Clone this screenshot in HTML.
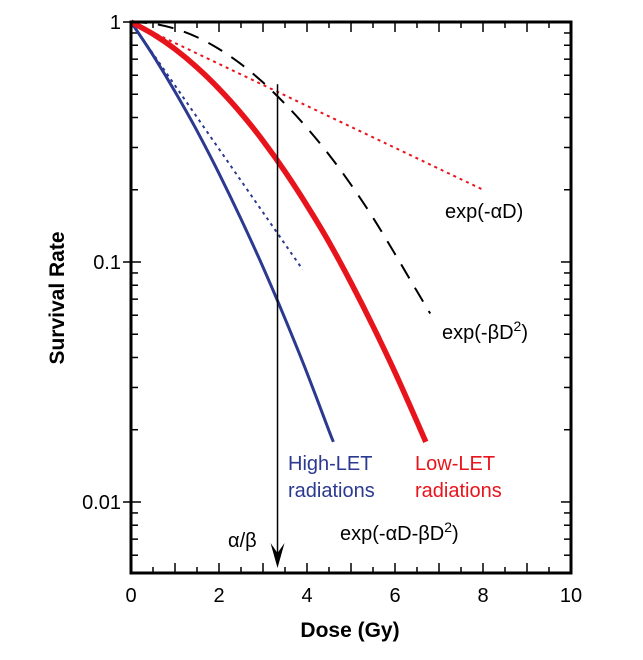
<!DOCTYPE html>
<html><head><meta charset="utf-8"><style>
body{margin:0;background:#fff;}
svg text{font-family:"Liberation Sans",Arial,sans-serif;}
</style></head><body>
<svg id="chart" width="643" height="655" viewBox="0 0 643 655" xmlns="http://www.w3.org/2000/svg">
<g id="plot"></g>
</svg>
<script>
const xTicks=[0,2,4,6,8,10];
const yTicks=[1,0.1,0.01];
const yTickLabels=["1","0.1","0.01"];
const doseLow=[0,0.5,1,1.5,2,2.5,3,3.5,4,4.5,5,5.5,6,6.5,6.7];
const survLow=[1,0.891,0.771,0.647,0.527,0.417,0.320,0.238,0.172,0.121,0.082,0.054,0.0347,0.0216,0.0178];
const doseQuad=[0,0.5,1,1.5,2,2.5,3,3.5,4,4.5,5,5.5,6,6.5,6.8];
const survQuad=[1,0.984,0.938,0.865,0.772,0.668,0.560,0.456,0.362,0.280,0.210,0.153,0.108,0.0755,0.0610];
const doseHigh=[0,0.5,1,1.5,2,2.5,3,3.5,4,4.5,4.6];
const survHigh=[1,0.727,0.513,0.352,0.234,0.151,0.0952,0.0581,0.0345,0.0198,0.0178];
const doseLinLow=[0,8];
const survLinLow=[1,0.2];
const doseLinHigh=[0,3.9];
const survLinHigh=[1,0.093];
const alphaBeta=[3.33];

const L=131,R=571,T=22,B=573,yMinLog=-2.296;
const X=d=>L+(R-L)*d/10;
const Y=v=>T+(B-T)*(Math.log10(v)/yMinLog);
const NS="http://www.w3.org/2000/svg";
const g=document.getElementById('plot');
function el(t,a,p){const e=document.createElementNS(NS,t);for(const k in a)e.setAttribute(k,a[k]);(p||g).appendChild(e);return e;}
function path(xs,ys){
  const pts=xs.map((d,i)=>[X(d),Y(ys[i])]);
  let s='M'+pts[0][0].toFixed(1)+','+pts[0][1].toFixed(1);
  for(let i=0;i<pts.length-1;i++){
    const p0=pts[i-1]||pts[i],p1=pts[i],p2=pts[i+1],p3=pts[i+2]||p2;
    const c1=[p1[0]+(p2[0]-p0[0])/6,p1[1]+(p2[1]-p0[1])/6];
    const c2=[p2[0]-(p3[0]-p1[0])/6,p2[1]-(p3[1]-p1[1])/6];
    s+=`C${c1[0].toFixed(1)},${c1[1].toFixed(1)} ${c2[0].toFixed(1)},${c2[1].toFixed(1)} ${p2[0].toFixed(1)},${p2[1].toFixed(1)}`;
  }
  return s;
}

for(let d=0;d<=10;d+=0.5){
  const len=(d%1===0)?10:6;
  let t=el('line',{x1:X(d),x2:X(d),y1:B,y2:B-len,stroke:'#000','stroke-width':1.5});
  
  t=el('line',{x1:X(d),x2:X(d),y1:T,y2:T+len,stroke:'#000','stroke-width':1.5});
  
}
for(let e=0;e>=-3;e--){
  for(let m=1;m<10;m++){
    const use=(m===1)?Math.pow(10,e):m*Math.pow(10,e-1);
    if(use>1||Math.log10(use)<yMinLog)continue;
    const major=m===1;
    let t=el('line',{x1:major?L-8:L,x2:L+(major?10:7),y1:Y(use),y2:Y(use),stroke:'#000','stroke-width':1.5});
    
    t=el('line',{x1:R,x2:R-(major?10:7),y1:Y(use),y2:Y(use),stroke:'#000','stroke-width':1.5});
    
  }
}
xTicks.forEach(d=>{const t=el('text',{x:X(d),y:B+29,'font-size':20,'text-anchor':'middle'});t.textContent=d;
});
yTicks.forEach((v,i)=>{const t=el('text',{x:L-10,y:Y(v)+7,'font-size':20,'text-anchor':'end'});t.textContent=yTickLabels[i];
});

let p;
p=el('path',{d:path(doseLinLow,survLinLow),fill:'none',stroke:'#e8141c','stroke-width':2,'stroke-dasharray':'3,4'});

p=el('path',{d:path(doseLinHigh,survLinHigh),fill:'none',stroke:'#2b3990','stroke-width':2,'stroke-dasharray':'3,4'});

p=el('path',{d:path(doseQuad,survQuad),fill:'none',stroke:'#000','stroke-width':2,'stroke-dasharray':'16,11'});

p=el('path',{d:path(doseHigh,survHigh),fill:'none',stroke:'#2b3990','stroke-width':3});

p=el('path',{d:path(doseLow,survLow),fill:'none',stroke:'#e8141c','stroke-width':5.5});


const ax=X(alphaBeta[0]);
p=el('line',{x1:ax,x2:ax,y1:Y(0.55),y2:B-15,stroke:'#000','stroke-width':1.5});

p=el('path',{d:`M${ax-7},${B-30} L${ax},${B-5} L${ax+7},${B-30} L${ax},${B-20} Z`,fill:'#000'});


p=el('rect',{x:L,y:T,width:R-L,height:B-T,fill:'none',stroke:'#000','stroke-width':3});


function txt(x,y,s,name,o){const t=el('text',Object.assign({x:x,y:y,'font-size':20},o||{}));t.innerHTML=s;
return t;}
txt(445,218,'exp(-αD)','label-exp-alpha');
txt(442,339,'exp(-βD<tspan font-size="14" dy="-8">2</tspan><tspan dy="8">)</tspan>','label-exp-beta');
txt(288,470,'High-LET','label-high-let',{fill:'#2b3990'});
txt(288,497,'radiations','label-high-let-2',{fill:'#2b3990'});
txt(415,470,'Low-LET','label-low-let',{fill:'#e8141c'});
txt(415,497,'radiations','label-low-let-2',{fill:'#e8141c'});
txt(340,540,'exp(-αD-βD<tspan font-size="14" dy="-8">2</tspan><tspan dy="8">)</tspan>','label-exp-lq');
txt(228,547,'α/β','label-alpha-beta');
txt(350,637,'Dose (Gy)','x-axis-title',{'font-weight':'bold','text-anchor':'middle','font-size':21});
txt(0,0,'Survival Rate','y-axis-title',{'font-weight':'bold','text-anchor':'middle','font-size':21,transform:'translate(64,298) rotate(-90)'});
</script>
</body></html>
